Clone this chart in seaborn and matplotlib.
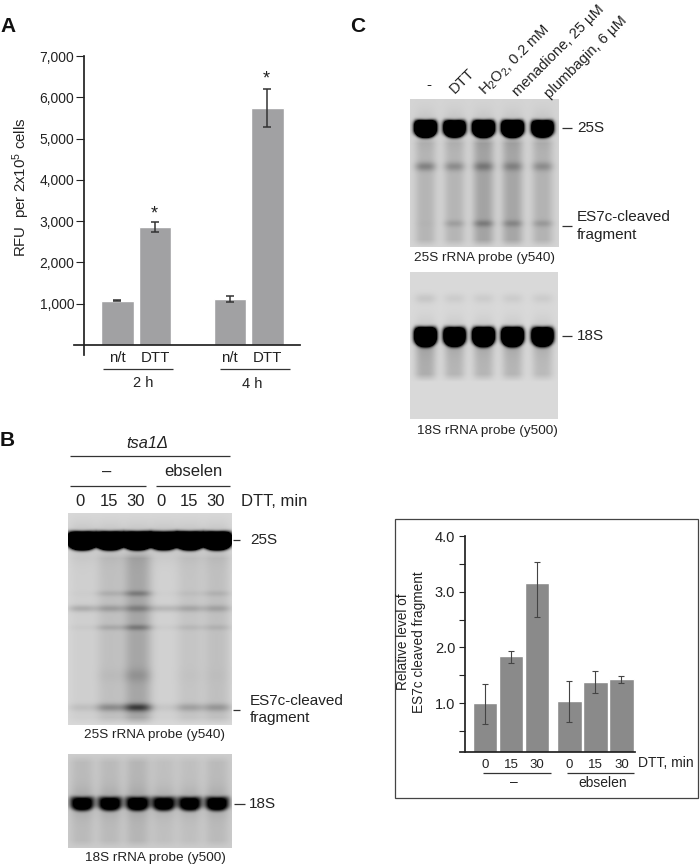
import numpy as np
import matplotlib
matplotlib.use('Agg')
import matplotlib.pyplot as plt
import seaborn as sns

# panel A
conditions = ['2 h n/t', '2 h DTT', '4 h n/t', '4 h DTT']
bar_labels = ['n/t', 'DTT', '', 'n/t', 'DTT']
rfu = [1070, 2860, 1120, 5740]
rfu_err = [10, 130, 70, 450]
rfu_ticks = [1000, 2000, 3000, 4000, 5000, 6000, 7000]

# panel C bar chart
dtt_min = ['0', '15', '30', '0', '15', '30']
fragment_group = [0, 0, 0, 1, 1, 1]
fragment = [1.0, 1.84, 3.15, 1.04, 1.38, 1.43]
fragment_low = [0.62, 1.72, 2.55, 0.65, 1.18, 1.36]
fragment_high = [1.35, 1.94, 3.53, 1.40, 1.57, 1.49]

# band strength per lane, read from the gels (0 white, 1 black)
b25_main = [3.0, 3.0, 3.0, 2.6, 3.0, 3.0]
b25_upper = [0.01, 0.07, 0.17, 0.01, 0.03, 0.06]
b25_mid = [0.13, 0.14, 0.16, 0.10, 0.12, 0.12]
b25_lower = [0.02, 0.09, 0.18, 0.02, 0.05, 0.06]
b25_faint = [0.0, 0.02, 0.08, 0.0, 0.01, 0.01]
b25_frag = [0.06, 0.20, 0.42, 0.04, 0.14, 0.16]
b25_smear = [0.04, 0.10, 0.20, 0.03, 0.08, 0.10]
b18_main = [0.92, 0.92, 0.92, 0.90, 0.92, 0.92]
b18_smear = [0.07, 0.07, 0.09, 0.05, 0.05, 0.07]

c25_main = [3.0, 2.6, 3.0, 3.0, 2.6]
c25_mid = [0.20, 0.16, 0.18, 0.15, 0.15]
c25_frag = [0.01, 0.09, 0.16, 0.13, 0.10]
c25_smear = [0.12, 0.12, 0.19, 0.18, 0.13]
c18_main = [3.0, 2.6, 3.0, 3.0, 2.6]
c18_upper = [0.07, 0.05, 0.05, 0.05, 0.05]
c18_smear = [0.17, 0.14, 0.14, 0.14, 0.12]

FIG_W, FIG_H = 700, 865


def ax_px(fig, x0, y0, x1, y1):
    # axes from pixel box, y measured from the top
    return fig.add_axes([x0 / FIG_W, 1 - y1 / FIG_H, (x1 - x0) / FIG_W, (y1 - y0) / FIG_H])


def draw_gel(fig, box, lanes, half_w, bg, main, halo, bands, smears):
    x0, y0, x1, y1 = box
    yy, xx = np.mgrid[y0:y1:0.5, x0:x1:0.5]
    dark = np.full(xx.shape, bg, dtype=float)
    y_main, sig_main, amps_main = main
    for c_i, center in enumerate(lanes):
        dx = (xx - center) / half_w
        prof = np.exp(-np.abs(dx) ** 3)
        # saturated band: rounded blob that sags a little in the middle of the lane
        dy = (yy - y_main - 1.5 * (1 - dx ** 2).clip(0)) / sig_main
        dark += amps_main[c_i] * np.exp(-(np.abs(dx) ** 3 + np.abs(dy) ** 3) ** (4 / 3))
        dark += halo * prof * np.exp(-((yy - y_main) / (sig_main * 2)) ** 2)
        for y_band, sig, amps in bands:
            dark += amps[c_i] * prof * np.exp(-((yy - y_band) / sig) ** 2)
        for y_a, y_b, amps in smears:
            edge = np.clip((yy - y_a) / 8, 0, 1) * np.clip((y_b - yy) / 8, 0, 1)
            dark += amps[c_i] * prof * edge
    ax = ax_px(fig, x0, y0, x1, y1)
    sns.heatmap(1 - np.clip(dark, 0, 1), ax=ax, cmap='gray', vmin=0, vmax=1, cbar=False,
                xticklabels=False, yticklabels=False, rasterized=True)
    return ax


sns.set_theme(style='white')
plt.rcParams['font.family'] = ['Liberation Sans', 'DejaVu Sans']
plt.rcParams['mathtext.default'] = 'regular'
plt.rcParams['axes.unicode_minus'] = False

fig = plt.figure(figsize=(FIG_W / 100, FIG_H / 100), dpi=100, facecolor='white')

# ---- panel A bars ----
ax_a = ax_px(fig, 74, 56, 300, 355)
order = conditions[:2] + [''] + conditions[2:]
sns.barplot(x=conditions, y=rfu, order=order, ax=ax_a, color='#a1a1a3', saturation=1,
            width=0.87, errorbar=None)
positions = [order.index(c) for c in conditions]
ax_a.errorbar(positions, rfu, yerr=rfu_err, fmt='none', ecolor='#333333', elinewidth=1.1,
              capsize=3, capthick=1.1)
ax_a.spines[['top', 'right']].set_visible(False)
ax_a.spines['left'].set_position(('data', -0.893))
ax_a.spines['bottom'].set_position(('data', 0))
ax_a.spines['left'].set_color('#222222')
ax_a.spines['bottom'].set_color('#222222')
ax_a.set_xlim(-1.16, 4.87)
ax_a.set_ylim(-242, 7000)
ax_a.set_yticks(rfu_ticks)
ax_a.set_yticklabels([f'{v:,}' for v in rfu_ticks])
ax_a.set_xticks(range(5))
ax_a.set_xticklabels(bar_labels)
ax_a.tick_params(axis='y', length=6, width=0.8, color='#222222', left=True, pad=1,
                 labelsize=10, labelcolor='#222222')
ax_a.tick_params(axis='x', length=0, pad=4, labelsize=10.8, labelcolor='#222222')
ax_a.patch.set_alpha(0)

# ---- fragment bars ----
ax_d = ax_px(fig, 460, 536, 635, 752)
group_gap = 0.25
bar_x = np.arange(len(fragment)) + group_gap * np.array(fragment_group)
sns.barplot(x=bar_x, y=fragment, native_scale=True, ax=ax_d, color='#8a8a8a', saturation=1,
            width=0.93, errorbar=None)
ax_d.errorbar(bar_x, fragment,
              yerr=[np.array(fragment) - np.array(fragment_low),
                    np.array(fragment_high) - np.array(fragment)],
              fmt='none', ecolor='#444444', elinewidth=0.8, capsize=2, capthick=0.8)
ax_d.spines[['top', 'right']].set_visible(False)
ax_d.spines['left'].set_position(('data', -0.77))
ax_d.spines['left'].set_color('#222222')
ax_d.spines['bottom'].set_color('#222222')
ax_d.set_xlim(-0.96, 5.77)
ax_d.set_ylim(0.12, 4.0)
ax_d.set_yticks([1, 2, 3, 4])
ax_d.set_yticklabels(['1.0', '2.0', '3.0', '4.0'])
ax_d.set_yticks([0.5, 1.5, 2.5, 3.5], minor=True)
ax_d.set_xticks(bar_x)
ax_d.set_xticklabels(dtt_min)
ax_d.tick_params(axis='y', which='both', length=4, width=0.8, color='#222222', left=True, pad=3,
                 labelsize=10.5, labelcolor='#222222')
ax_d.tick_params(axis='x', length=0, pad=5, labelsize=9.5, labelcolor='#222222')
ax_d.patch.set_alpha(0)

# ---- gels ----
lanes_b = [81.7, 109.5, 137, 163.3, 189.5, 217]
lanes_c = [425, 454, 483, 512, 542]

draw_gel(fig, (68, 513, 232, 725), lanes_b, 14, 0.15, (539, 8.5, b25_main), 0.10,
         [(593, 3, b25_upper), (608, 3.5, b25_mid), (627, 3, b25_lower),
          (675, 7, b25_faint), (707, 4, b25_frag)],
         [(550, 725, b25_smear)])
draw_gel(fig, (68, 754, 232, 848), lanes_b, 12, 0.20, (802, 7, b18_main), 0.08,
         [], [(754, 848, b18_smear)])
draw_gel(fig, (410, 99, 559, 247), lanes_c, 10.5, 0.17, (127, 8, c25_main), 0.08,
         [(166, 4.5, c25_mid), (223, 3.5, c25_frag)],
         [(135, 247, c25_smear)])
draw_gel(fig, (410, 272, 558, 419), lanes_c, 10.5, 0.15, (335, 9, c18_main), 0.08,
         [(298, 5, c18_upper)],
         [(340, 382, c18_smear)])

# ---- labels and rules, placed in figure pixels ----
over = fig.add_axes([0, 0, 1, 1], zorder=10)
over.set_xlim(0, FIG_W)
over.set_ylim(FIG_H, 0)
over.axis('off')
TXT = '#222222'


def label(x, y, s, size=11, ha='left', **kw):
    over.text(x, y, s, fontsize=size, ha=ha, va='center', color=TXT, **kw)


def rule(x0, x1, y, lw=0.9, color='#333333'):
    over.plot([x0, x1], [y, y], color=color, lw=lw, solid_capstyle='butt')


for px, py, s in [(0, 26, 'A'), (0, 441, 'B'), (350, 26, 'C')]:
    over.text(px, py, s, fontsize=15, fontweight='bold', va='center', color='#111111')

# panel A
label(21, 187, 'RFU  per 2x10$^{5}$ cells', size=10.8, rotation=90, ha='center')
label(154, 214, '*', size=13, ha='center')
label(266, 79, '*', size=13, ha='center')
rule(103, 173, 369)
rule(220, 290, 369)
label(143, 383, '2 h', size=10.5, ha='center')
label(252, 384, '4 h', size=10.5, ha='center')

# panel B
label(147, 443, 'tsa1\u0394', size=11.8, ha='center', style='italic')
rule(70, 230, 456)
label(107, 472, '\u2013', size=12, ha='center')
label(193, 472, 'ebselen', size=12, ha='center')
rule(70, 146, 486)
rule(156, 230, 486)
for px, s in zip([80, 109, 136, 161, 189, 216], dtt_min):
    label(px, 501, s, size=12, ha='center')
label(241, 501, 'DTT, min', size=12)
rule(233, 240, 540)
label(250, 540, '25S')
rule(233, 240, 710)
label(250, 701, 'ES7c-cleaved')
label(250, 718, 'fragment')
label(155, 735, '25S rRNA probe (y540)', size=9.7, ha='center')
rule(234, 245, 804)
label(249, 804, '18S')
label(155, 858, '18S rRNA probe (y500)', size=9.7, ha='center')

# panel C gels
treatments = ['DTT', 'H$_2$O$_2$, 0.2 mM', 'menadione, 25 \u00b5M', 'plumbagin, 6 \u00b5M']
anchors = [(452, 91), (482, 93), (515, 94), (547, 96)]
label(429, 85, '-', size=11, ha='center')
for (px, py), s in zip(anchors, treatments):
    over.text(px, py, s, fontsize=10.6, rotation=45, rotation_mode='anchor', ha='left',
              va='center', color=TXT)
rule(562, 572, 128)
label(577, 128, '25S')
rule(562, 572, 226)
label(577, 217, 'ES7c-cleaved')
label(577, 235, 'fragment')
label(484, 258, '25S rRNA probe (y540)', size=9.7, ha='center')
rule(562, 572, 336)
label(577, 336, '18S')
label(487, 431, '18S rRNA probe (y500)', size=9.7, ha='center')

# fragment chart box
over.add_patch(plt.Rectangle((395, 519), 303, 279, fill=False, ec='#444444', lw=0.9))
label(403, 642, 'Relative level of', size=9.8, rotation=90, ha='center')
label(419, 642, 'ES7c cleaved fragment', size=9.8, rotation=90, ha='center')
label(638, 763, 'DTT, min', size=10)
rule(483, 551, 773)
rule(567, 634, 773)
label(514, 782, '\u2013', size=10, ha='center')
label(603, 783, 'ebselen', size=10, ha='center')

fig.savefig('out.png', dpi=100)
